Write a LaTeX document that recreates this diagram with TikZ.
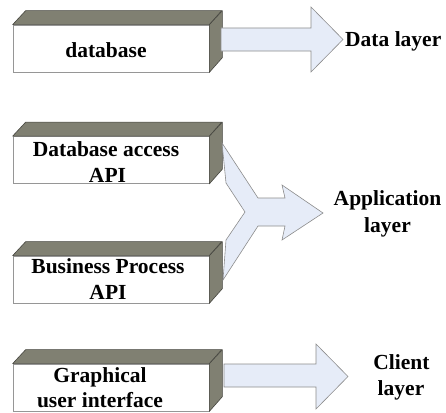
\documentclass[tikz,border=0pt]{standalone}
\usepackage{fontspec}
\setmainfont{Liberation Serif}[BoldFont={Liberation Serif Bold}]
\definecolor{boxgray}{RGB}{128,128,114}
\definecolor{edgegray}{RGB}{70,70,64}
\definecolor{frontgray}{RGB}{150,150,150}
\definecolor{arrowfill}{RGB}{230,236,248}
\definecolor{arrowline}{RGB}{140,140,140}
\begin{document}
\begin{tikzpicture}[x=1pt,y=-1pt,
  face/.style={fill=boxgray, draw=edgegray, line width=0.6pt, line join=round},
  front/.style={draw=frontgray, fill=white, line width=0.7pt, minimum width=196pt, minimum height=47pt, inner sep=0pt},
  lbl/.style={font=\bfseries\fontsize{21.5}{26}\selectfont, inner sep=0pt, anchor=base},
  blockarrow/.style={fill=arrowfill, draw=arrowline, line width=0.6pt, line join=miter}]
\useasboundingbox (0,0) rectangle (446,412);
\clip (0,0) rectangle (446,412);
% boxes
\foreach \i/\cy in {1/48.5, 2/160, 3/279.5, 4/387.5}{
  \node[front] (b\i) at (111,\cy) {};
  \draw[face] (b\i.north west) -- ++(13,-14) -- ++(196,0) -- (b\i.north east) -- cycle;
  \draw[face] (b\i.north east) -- ++(13,-14) -- ++(0,47) -- (b\i.south east) -- cycle;
}
% block arrows
\draw[blockarrow] (221,28) coordinate (a1s) -- (311,28) -- (311,7) -- (343,39.5) coordinate (a1t) -- (311,72) -- (311,51) -- (221,51) -- cycle;
\draw[blockarrow] (222,143) -- (258,198) -- (285,198) -- (282,185) -- (323,213) coordinate (a2t) -- (282,240) -- (285,226) -- (258,226) -- (223,280) -- (226,240) -- (245,212) -- (226,183) -- cycle;
\draw[blockarrow] (224,364) coordinate (a3s) -- (316,364) -- (316,344) -- (348,376.5) coordinate (a3t) -- (316,409) -- (316,387) -- (224,387) -- cycle;
% box texts
\node[lbl] (t1) at (106,57.5) {database};
\node[lbl] (t2a) at (106,156) {Database access};
\node[lbl] (t2b) at (107.5,182) {API};
\node[lbl] (t3a) at (108,273) {Business Process};
\node[lbl] (t3b) at (108,299.5) {API};
\node[lbl] (t4a) at (100,382) {Graphical};
\node[lbl] (t4b) at (100,407) {user interface};
% layer labels
\node[lbl, anchor=base west] (l1) at (345,47) {Data layer};
\node[lbl] (l2a) at (387.5,205) {Application};
\node[lbl] (l2b) at (387.5,232) {layer};
\node[lbl] (l3a) at (401.5,369) {Client};
\node[lbl] (l3b) at (401,395) {layer};
\end{tikzpicture}
\end{document}
